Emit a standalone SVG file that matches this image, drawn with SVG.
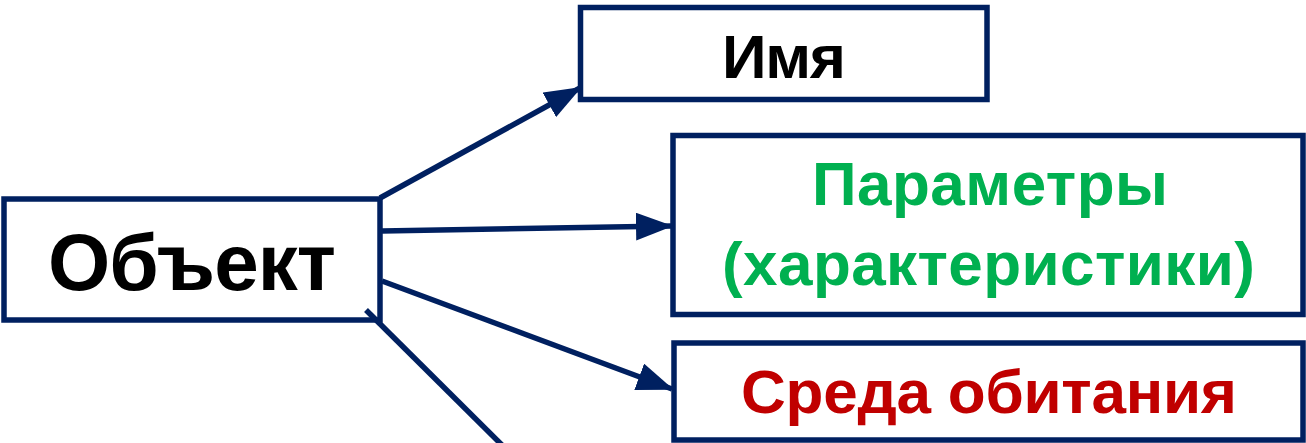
<svg xmlns="http://www.w3.org/2000/svg" width="1306" height="443" viewBox="0 0 1306 443">
  <style>
    .box { fill: #ffffff; stroke: #002060; stroke-width: 5.5; }
    .conn { stroke: #002060; stroke-width: 5.5; fill: none; }
    .lbl { font-family: "Liberation Sans", Arial, sans-serif; font-weight: bold; text-anchor: middle; }
  </style>
  <defs>
    <marker id="arrow" markerUnits="userSpaceOnUse" markerWidth="38" markerHeight="28" refX="35" refY="14" orient="auto">
      <path d="M0,0 L37,14 L0,28 z" fill="#002060"/>
    </marker>
  </defs>
  <rect width="1306" height="443" fill="#ffffff"/>
  <g id="node-object">
    <rect class="box" x="4" y="199" width="376" height="121"/>
    <text class="lbl" x="192" y="290" font-size="80" fill="#000000" textLength="288">Объект</text>
  </g>
  <g id="node-name">
    <rect class="box" x="580.5" y="7.5" width="406.5" height="92"/>
    <text class="lbl" x="784" y="78" font-size="62" fill="#000000" textLength="124">Имя</text>
  </g>
  <g id="node-params">
    <rect class="box" x="673" y="135.5" width="630" height="179"/>
    <text class="lbl" x="990" y="205" font-size="62" fill="#00B050" textLength="356">Параметры</text>
    <text class="lbl" x="988.5" y="285" font-size="62" fill="#00B050" textLength="533">(характеристики)</text>
  </g>
  <g id="node-habitat">
    <rect class="box" x="674" y="343" width="629" height="97"/>
    <text class="lbl" x="989" y="413" font-size="62" fill="#C00000" textLength="496">Среда обитания</text>
  </g>
  <g id="connectors">
    <line class="conn" x1="380" y1="198" x2="580" y2="88" marker-end="url(#arrow)"/>
    <line class="conn" x1="382" y1="231" x2="671" y2="226" marker-end="url(#arrow)"/>
    <line class="conn" x1="382" y1="281" x2="672" y2="389" marker-end="url(#arrow)"/>
    <line class="conn" x1="366" y1="310" x2="512" y2="455"/>
  </g>
</svg>
